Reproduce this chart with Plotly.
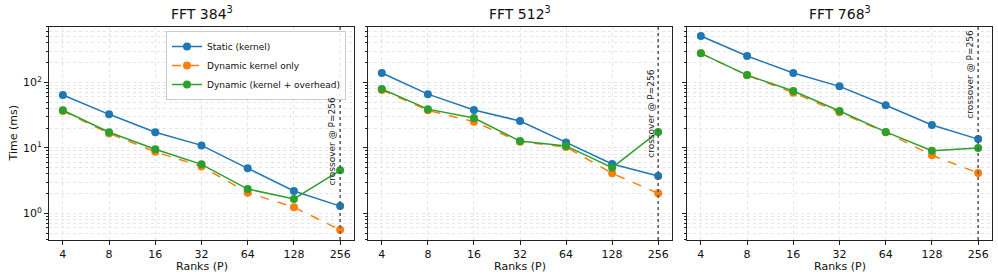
import math
import plotly.graph_objects as go

ranks = [4, 8, 16, 32, 64, 128, 256]
rank_labels = ["4", "8", "16", "32", "64", "128", "256"]
panel_titles = ["FFT 384<sup>3</sup>", "FFT 512<sup>3</sup>", "FFT 768<sup>3</sup>"]

static_384 = [64, 32.5, 17.3, 10.9, 4.86, 2.19, 1.29]
dyn_kernel_384 = [36.5, 16.6, 8.7, 5.2, 2.07, 1.24, 0.56]
dyn_total_384 = [37.5, 17.3, 9.5, 5.6, 2.35, 1.66, 4.53]

static_512 = [139, 66, 37.8, 25.7, 12.1, 5.66, 3.71]
dyn_kernel_512 = [76.4, 37.4, 25.1, 12.4, 10.3, 4.08, 2.02]
dyn_total_512 = [79, 39, 28.5, 12.7, 10.7, 4.98, 17.5]

static_768 = [509, 252, 139, 86.9, 44.6, 22.3, 13.6]
dyn_kernel_768 = [277, 128, 69.5, 34.8, 17.3, 7.7, 4.14]
dyn_total_768 = [277, 129, 73.8, 36.5, 17.5, 9.06, 9.95]

crossover_rank = 256
crossover_text = "crossover @ P=256"

series_names = ["Static (kernel)", "Dynamic kernel only", "Dynamic (kernel + overhead)"]
panels = [
    (static_384, dyn_kernel_384, dyn_total_384),
    (static_512, dyn_kernel_512, dyn_total_512),
    (static_768, dyn_kernel_768, dyn_total_768),
]

# layout constants
W, H = 998, 278
x_domains = [(49 / W, 354 / W), (368 / W, 672 / W), (687 / W, 992 / W)]
y_domain = (1 - 240 / H, 1 - 27 / H)
label_y = [2.44, 6.5, 25.7]
colors = ["#1f77b4", "#ff7f0e", "#2ca02c"]
dashes = ["solid", "dash", "solid"]
FONT = "DejaVu Sans"
GRID = "#e6e6e6"

fig = go.Figure()
for i, data in enumerate(panels):
    xa = "x" if i == 0 else f"x{i+1}"
    ya = "y" if i == 0 else f"y{i+1}"
    for j, vals in enumerate(data):
        fig.add_trace(go.Scatter(
            x=ranks, y=vals, mode="lines+markers", name=series_names[j],
            xaxis=xa, yaxis=ya, showlegend=(i == 0),
            line=dict(color=colors[j], width=1.5, dash=dashes[j]),
            marker=dict(color=colors[j], size=8, symbol="circle"),
        ))
    fig.add_shape(type="line", xref=xa, yref=f"{ya} domain", x0=crossover_rank, x1=crossover_rank,
                  y0=0, y1=1, line=dict(color="#555555", width=1.5, dash="dot"))
    fig.add_annotation(xref=xa, yref=ya, x=math.log10(crossover_rank), y=math.log10(label_y[i]),
                       text=crossover_text, textangle=-90, showarrow=False,
                       xanchor="right", yanchor="bottom", xshift=-1,
                       font=dict(family=FONT, size=9, color="#222"))
    fig.add_annotation(xref="paper", yref="paper",
                       x=(x_domains[i][0] + x_domains[i][1]) / 2, y=1 - 13 / H,
                       text=panel_titles[i], showarrow=False, xanchor="center", yanchor="middle",
                       font=dict(family=FONT, size=14, color="#111"))
    fig.add_annotation(xref="paper", yref="paper",
                       x=(x_domains[i][0] + x_domains[i][1]) / 2, y=1 - 266 / H,
                       text="Ranks (P)", showarrow=False, xanchor="center", yanchor="middle",
                       font=dict(family=FONT, size=11, color="#111"))

fig.add_annotation(xref="paper", yref="paper", x=13 / W, y=(y_domain[0] + y_domain[1]) / 2,
                   text="Time (ms)", textangle=-90, showarrow=False,
                   xanchor="center", yanchor="middle",
                   font=dict(family=FONT, size=11, color="#111"))

minor_vals = [m * 10 ** k for k in range(-1, 3) for m in range(2, 10)]
layout = dict(
    width=W, height=H, margin=dict(l=0, r=0, t=0, b=0),
    plot_bgcolor="white", paper_bgcolor="white",
    font=dict(family=FONT, size=11, color="#111"),
    legend=dict(x=346 / W, y=1 - 31 / H, xanchor="right", yanchor="top",
                bgcolor="rgba(255,255,255,0.9)", bordercolor="#cccccc", borderwidth=1,
                font=dict(family=FONT, size=9), tracegroupgap=0,
                itemwidth=30),
)
for i in range(3):
    xk = "xaxis" if i == 0 else f"xaxis{i+1}"
    yk = "yaxis" if i == 0 else f"yaxis{i+1}"
    ya = "y" if i == 0 else f"y{i+1}"
    xa = "x" if i == 0 else f"x{i+1}"
    layout[xk] = dict(
        type="log", domain=list(x_domains[i]), anchor=ya,
        range=[1.7 * math.log10(2), 8.3 * math.log10(2)],
        tickvals=ranks, ticktext=rank_labels, ticks="outside", ticklen=4, tickcolor="#222",
        showline=True, linecolor="#222", linewidth=1, mirror=True,
        showgrid=True, gridcolor=GRID, griddash="dot", gridwidth=1, zeroline=False,
        tickfont=dict(size=11),
    )
    layout[yk] = dict(
        type="log", domain=list(y_domain), anchor=xa,
        range=[-0.407, 2.845],
        tickvals=[1, 10, 100], ticktext=["10<sup>0</sup>", "10<sup>1</sup>", "10<sup>2</sup>"],
        showticklabels=(i == 0), ticks="outside", ticklen=4, tickcolor="#222",
        showline=True, linecolor="#222", linewidth=1, mirror=True,
        showgrid=True, gridcolor=GRID, griddash="dot", gridwidth=1, zeroline=False,
        minor=dict(tickvals=minor_vals, ticks="outside", ticklen=2, tickcolor="#222",
                   showgrid=True, gridcolor=GRID, griddash="dot", gridwidth=1),
        tickfont=dict(size=11),
    )
fig.update_layout(**layout)
fig.write_html("out.html", config={"displayModeBar": False},
               post_script="document.body.style.margin='0px';document.body.style.overflow='hidden';")
